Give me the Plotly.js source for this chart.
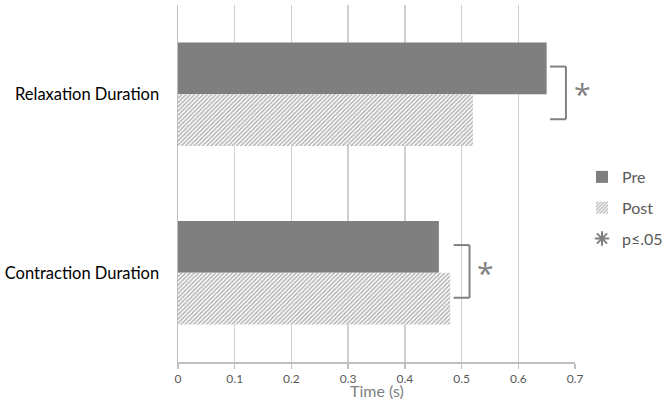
<!DOCTYPE html>
<html>
<head>
<meta charset="utf-8">
<script src="https://cdn.plot.ly/plotly-3.0.1.min.js"></script>
<style>html,body{margin:0;padding:0;background:#fff}#chart{width:665px;height:399px}</style>
</head>
<body>
<div id="chart"></div>
<script>
// ---- data ----
const categories = ["Relaxation Duration", "Contraction Duration"];
const preValues = [0.65, 0.46];
const postValues = [0.52, 0.48];
const seriesNames = ["Pre", "Post"];
const sigLabel = "p≤.05";
const significant = [true, true];
const xTicks = [0, 0.1, 0.2, 0.3, 0.4, 0.5, 0.6, 0.7];
const xTickLabels = ["0", "0.1", "0.2", "0.3", "0.4", "0.5", "0.6", "0.7"];
const xTitle = "Time (s)";

const FONT = "Lato, 'Open Sans', sans-serif";
const gray = "#808080";
const xMax = 0.7;

const traces = [
  {
    type: "bar", orientation: "h", name: seriesNames[0],
    y: categories, x: preValues,
    marker: {color: "#7f7f7f", line: {width: 0}},
    legendgroup: "a", hoverinfo: "skip"
  },
  {
    type: "bar", orientation: "h", name: seriesNames[1],
    y: categories, x: postValues,
    marker: {color: "#ffffff", line: {width: 0},
      pattern: {shape: "/", fgcolor: "#b3b3b3", bgcolor: "#ffffff", size: 3, solidity: 0.5}},
    legendgroup: "b", hoverinfo: "skip"
  },
  {
    type: "scatter", mode: "markers", name: sigLabel,
    x: [null], y: [null],
    marker: {symbol: "asterisk-open", size: 8, color: gray, line: {color: gray, width: 1.3}},
    legendgroup: "c", hoverinfo: "skip"
  }
];

const shapes = [];
const annotations = [];
categories.forEach((c, i) => {
  if (!significant[i]) return;
  const m = Math.max(preValues[i], postValues[i]);
  const x0 = m + 0.006, x1 = m + 0.034;
  const yTop = i - 0.155, yBot = i + 0.14;
  const line = {color: gray, width: 2};
  shapes.push({type: "line", xref: "x", yref: "y", x0: x0, x1: x1, y0: yTop, y1: yTop, line: line});
  shapes.push({type: "line", xref: "x", yref: "y", x0: x1, x1: x1, y0: yTop, y1: yBot, line: line});
  shapes.push({type: "line", xref: "x", yref: "y", x0: x0, x1: x1, y0: yBot, y1: yBot, line: line});
  annotations.push({xref: "paper", yref: "y", x: (m + 0.063) / xMax, y: (yTop + yBot) / 2, yshift: -1, text: "*", showarrow: false,
    font: {family: "'Open Sans', sans-serif", size: 30, color: gray}, xanchor: "center", yanchor: "middle"});
});
annotations.push({xref: "paper", yref: "paper", x: 0.5, y: 0, yanchor: "top", yshift: -17,
  text: xTitle, showarrow: false, font: {family: FONT, size: 16, color: gray}});

const layout = {
  width: 665, height: 399,
  margin: {l: 178, r: 90, t: 5, b: 37, autoexpand: false},
  paper_bgcolor: "#ffffff", plot_bgcolor: "#ffffff",
  barmode: "group", bargap: 0.42, bargroupgap: 0,
  font: {family: FONT, color: "#595959"},
  xaxis: {
    range: [0, xMax], tickvals: xTicks, ticktext: xTickLabels,
    showgrid: true, gridcolor: "#d0d0d0", gridwidth: 1.5,
    zeroline: false, showline: true, linecolor: "#bfbfbf", linewidth: 1.5,
    ticks: "outside", ticklen: 5, tickcolor: "#bfbfbf", tickwidth: 1.5,
    tickfont: {family: FONT, size: 12, color: "#595959"}, fixedrange: true
  },
  yaxis: {
    type: "category", categoryorder: "array", categoryarray: categories,
    autorange: "reversed", showgrid: false, zeroline: false,
    showline: true, linecolor: "#bfbfbf", linewidth: 1.5, ticks: "",
    ticklabelstandoff: 14,
    tickfont: {family: FONT, size: 16.5, color: "#000000"}, fixedrange: true
  },
  legend: {
    font: {family: FONT, size: 16, color: "#595959"},
    traceorder: "grouped", tracegroupgap: 7, itemsizing: "constant",
    bgcolor: "rgba(0,0,0,0)", xanchor: "left", yanchor: "top"
  },
  showlegend: true,
  shapes: shapes,
  annotations: annotations
};
const plotW = 665 - 178 - 90, plotH = 399 - 5 - 37;
layout.legend.x = (582 - 178) / plotW;
layout.legend.y = (399 - 37 - 160) / plotH;

Plotly.newPlot("chart", traces, layout, {displayModeBar: false, staticPlot: true});
</script>
</body>
</html>
